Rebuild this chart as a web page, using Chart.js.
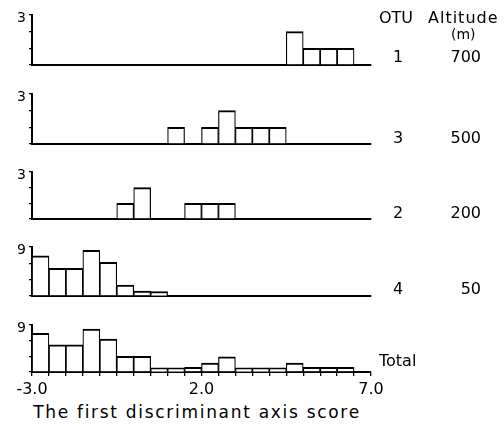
<!DOCTYPE html>
<html lang="en">
<head>
  <meta charset="UTF-8">
  <title>First discriminant axis score by OTU</title>
  <script src="https://cdn.jsdelivr.net/npm/chart.js"></script>
  <style>
    body { margin: 0; background: #fff; }
    .wrap { position: relative; width: 504px; height: 425px; font-family: "DejaVu Sans", sans-serif; color: #000; }
    .panel { position: absolute; left: 0; width: 400px; }
    .lbl { position: absolute; font-size: 16px; line-height: 18px; white-space: nowrap; }
    .otu { width: 30px; text-align: center; left: 383px; }
    .alt { width: 60px; text-align: right; left: 421px; }
    .title { position: absolute; left: 20px; width: 354px; top: 403px; text-align: center; font-size: 17px; line-height: 18px; letter-spacing: 1.7px; white-space: nowrap; }
  </style>
</head>
<body>
  <div class="wrap">
    <div class="panel" id="p0"><canvas id="c0"></canvas></div>
    <div class="panel" id="p1"><canvas id="c1"></canvas></div>
    <div class="panel" id="p2"><canvas id="c2"></canvas></div>
    <div class="panel" id="p3"><canvas id="c3"></canvas></div>
    <div class="panel" id="p4"><canvas id="c4"></canvas></div>

    <div class="lbl" style="left:379px;top:9px">OTU</div>
    <div class="lbl" style="left:428px;top:9px;letter-spacing:1px">Altitude</div>
    <div class="lbl" style="left:451px;top:25px;font-size:14px">(m)</div>
    <div id="rows"></div>
    <div class="title">The first discriminant axis score</div>
  </div>

  <script>
    // bin starts (width 0.5) on the first discriminant axis
    const binStarts = [-3.0, -2.5, -2.0, -1.5, -1.0, -0.5, 0.0, 0.5, 1.0, 1.5,
                       2.0, 2.5, 3.0, 3.5, 4.0, 4.5, 5.0, 5.5, 6.0, 6.5];

    // counts per bin
    const otu1  = [0, 0, 0, 0, 0, 0, 0, 0, 0, 0, 0, 0, 0, 0, 0, 2, 1, 1, 1, 0];
    const otu3  = [0, 0, 0, 0, 0, 0, 0, 0, 1, 0, 1, 2, 1, 1, 1, 0, 0, 0, 0, 0];
    const otu2  = [0, 0, 0, 0, 0, 1, 2, 0, 0, 1, 1, 1, 0, 0, 0, 0, 0, 0, 0, 0];
    const otu4  = [7.4, 5.1, 5.1, 8.4, 6.2, 2, 0.9, 0.8, 0, 0, 0, 0, 0, 0, 0, 0, 0, 0, 0, 0];
    const total = [7.4, 5.2, 5.2, 8.2, 6.3, 3, 3, 0.8, 0.8, 0.9, 1.7, 2.9, 0.8, 0.8, 0.8, 1.7, 0.9, 0.9, 0.9, 0];

    const panelNames = ['1', '3', '2', '4', 'Total'];
    const altitudes  = ['700', '500', '200', '50', ''];
    const yMaxes     = [3, 3, 3, 9, 9];
    const yTopLabels = ['3', '3', '3', '9', '9'];
    const xTickValues = [-3, 2, 7];
    const xTickLabels = ['-3.0', '2.0', '7.0'];

    const series = [otu1, otu3, otu2, otu4, total];

    // panel placement: plot top / baseline in page pixels
    const plotTop  = [15, 94, 172, 247, 325];
    const plotBase = [65, 144, 219, 296, 372];
    const labelMid = [57, 138, 213, 289, 361];
    const PAD_TOP = 10;

    function noPad(s) {
      s.paddingTop = 0; s.paddingBottom = 0; s.paddingLeft = 0; s.paddingRight = 0;
    }

    function makePanel(i) {
      const last = i === series.length - 1;
      const xAxisH = last ? 28 : 3;
      const holder = document.getElementById('p' + i);
      holder.style.top = (plotTop[i] - PAD_TOP) + 'px';
      holder.style.height = (PAD_TOP + plotBase[i] - plotTop[i] + xAxisH) + 'px';

      const points = binStarts.map((b, k) => ({ x: b + 0.25, y: series[i][k] }));

      new Chart(document.getElementById('c' + i), {
        type: 'bar',
        data: {
          datasets: [{
            data: points,
            backgroundColor: '#fff',
            borderColor: '#000',
            borderWidth: { top: 2, left: 1.2, right: 1.2, bottom: 0 },
            borderSkipped: 'start',
            barPercentage: 1,
            categoryPercentage: 1
          }]
        },
        options: {
          responsive: true,
          maintainAspectRatio: false,
          animation: false,
          layout: { padding: { top: PAD_TOP, right: 29, left: 0, bottom: 0 } },
          plugins: { legend: { display: false }, tooltip: { enabled: false } },
          scales: {
            x: {
              type: 'linear',
              min: -3,
              max: 7,
              offset: false,
              afterFit: (s) => { s.height = xAxisH; noPad(s); },
              border: { display: true, color: '#000', width: 2 },
              grid: {
                display: last,
                offset: false,
                drawOnChartArea: false,
                drawTicks: true,
                tickLength: 4,
                color: '#000',
                lineWidth: 1.3
              },
              ticks: {
                display: last,
                stepSize: 0.5,
                autoSkip: false,
                maxRotation: 0,
                padding: 4,
                color: '#000',
                font: { family: 'DejaVu Sans', size: 16 },
                callback: (v) => {
                  const k = xTickValues.findIndex(t => Math.abs(t - v) < 1e-6);
                  return k >= 0 ? xTickLabels[k] : '';
                }
              }
            },
            y: {
              min: 0,
              max: yMaxes[i],
              afterFit: (s) => { s.width = 32; noPad(s); },
              border: { display: true, color: '#000', width: 2 },
              grid: {
                drawOnChartArea: false,
                drawTicks: true,
                tickLength: 3,
                color: '#000',
                lineWidth: 1.3
              },
              ticks: {
                stepSize: yMaxes[i] / 3,
                autoSkip: false,
                padding: 3,
                labelOffset: 3,
                color: '#000',
                font: { family: 'DejaVu Sans', size: 14 },
                callback: (v) => (v === yMaxes[i] ? yTopLabels[i] : '')
              }
            }
          }
        }
      });
    }

    series.forEach((_, i) => makePanel(i));

    // right-hand labels
    const rows = document.getElementById('rows');
    panelNames.forEach((name, i) => {
      const top = labelMid[i] - 9;
      if (name === 'Total') {
        rows.insertAdjacentHTML('beforeend', `<div class="lbl" style="left:379px;top:${top}px">${name}</div>`);
      } else {
        rows.insertAdjacentHTML('beforeend', `<div class="lbl otu" style="top:${top}px">${name}</div>`);
        rows.insertAdjacentHTML('beforeend', `<div class="lbl alt" style="top:${top}px">${altitudes[i]}</div>`);
      }
    });
  </script>
</body>
</html>
